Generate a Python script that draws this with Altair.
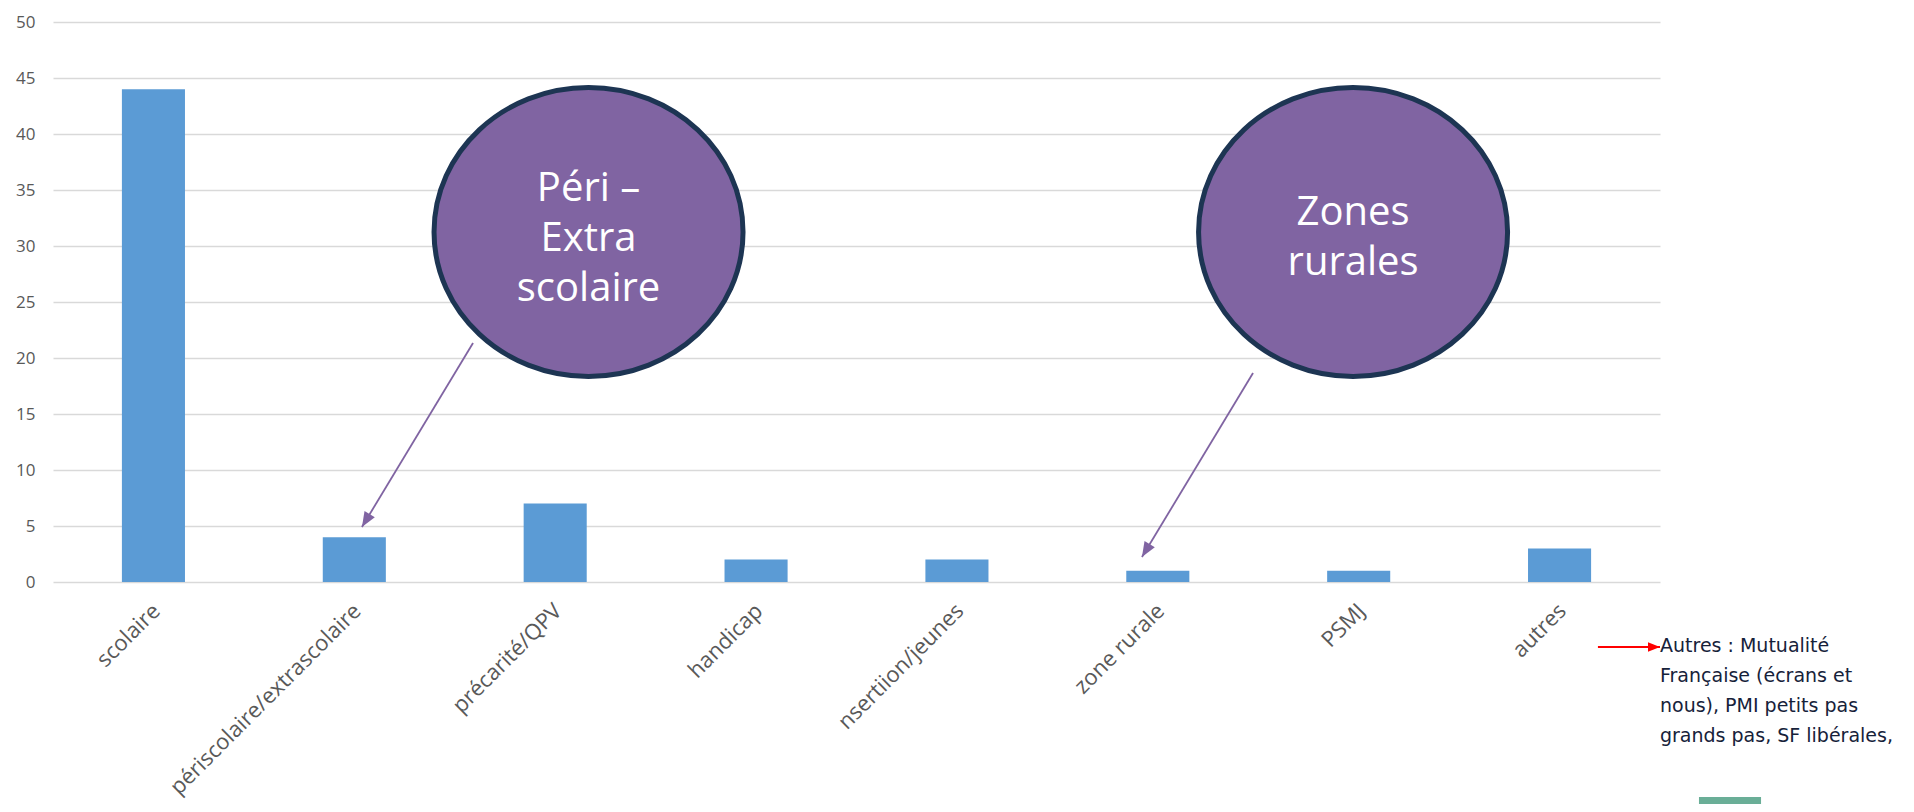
import altair as alt
import pandas as pd

# ---------------- data ----------------
categories = ["scolaire", "périscolaire/extrascolaire", "précarité/QPV", "handicap",
              "nsertiion/jeunes", "zone rurale", "PSMJ", "autres"]
values = [44, 4, 7, 2, 2, 1, 1, 3]
y_ticks = [0, 5, 10, 15, 20, 25, 30, 35, 40, 45, 50]

# annotations (x in category units 0..8, y in value units)
bubble_text = ["Péri –\nExtra\nscolaire", "Zones\nrurales"]
bubble_x = [2.666, 6.472]
bubble_y = [31.25, 31.25]
bubble_text_y = [35.13, 32.95]

arrow_x1 = [2.091, 5.974]
arrow_y1 = [21.34, 18.66]
arrow_x2 = [1.538, 5.421]
arrow_y2 = [4.91, 2.23]
arrow_angle = [211, 211]

red_x1 = [7.691]
red_x2 = [8.000]
red_y = [-5.80]
red_angle = [90]

note_lines = ["Autres : Mutualité\nFrançaise (écrans et\nnous), PMI petits pas\ngrands pas, SF libérales,"]
note_x = [8.0]
note_y = [-5.71]

green_x1 = [8.194]
green_x2 = [8.503]
green_y1 = [-19.2]
green_y2 = [-21.0]

# ---------------- styles ----------------
W, H = 1607, 560
ELLIPSE = ("M 1 0 C 1 0.5166 0.5523 0.9353 0 0.9353 C -0.5523 0.9353 -1 0.5166 -1 0 "
           "C -1 -0.5166 -0.5523 -0.9353 0 -0.9353 C 0.5523 -0.9353 1 -0.5166 1 0 Z")
HEAD = "M 0 0 L -0.4 1 L 0.4 1 Z"
PURPLE = "#8064a2"

xa = alt.Scale(domain=[0, 8], nice=False, zero=False)
ya = alt.Scale(domain=[0, 50], nice=False)

df = pd.DataFrame({"cat": categories, "val": values})

bars = alt.Chart(df).mark_bar(color="#5b9bd5").encode(
    x=alt.X("cat:N", sort=categories, title=None,
            scale=alt.Scale(paddingInner=0.686, paddingOuter=0.343),
            axis=alt.Axis(labelAngle=-45, labelAlign="right", labelBaseline="middle",
                          labelFont="Open Sans", labelFontSize=22, labelColor="#595959",
                          labelPadding=25, labelOffset=3, domain=False, ticks=False,
                          grid=False, labelLimit=500, labelOverlap=False)),
    y=alt.Y("val:Q", title=None, scale=alt.Scale(domain=[0, 50], nice=False),
            axis=alt.Axis(values=y_ticks, grid=True, gridColor="#d9d9d9", gridWidth=1.3,
                          domain=False, ticks=False, labelPadding=18,
                          labelFont="Open Sans", labelFontSize=17, labelColor="#595959")),
)

bub = pd.DataFrame({"x": bubble_x, "y": bubble_y, "ty": bubble_text_y, "t": bubble_text})
circles = alt.Chart(bub).mark_point(
    shape=ELLIPSE, size=95481, filled=True, fill=PURPLE, stroke="#1d3553",
    strokeWidth=5, opacity=1, fillOpacity=1, strokeOpacity=1
).encode(x=alt.X("x:Q", scale=xa, axis=None), y=alt.Y("y:Q", scale=ya, axis=None))

bub_text = alt.Chart(bub).mark_text(
    font="Open Sans", fontSize=40, color="white", lineBreak="\n", lineHeight=50,
    align="center", baseline="middle"
).encode(x=alt.X("x:Q", scale=xa, axis=None), y=alt.Y("ty:Q", scale=ya, axis=None), text="t:N")

arr = pd.DataFrame({"x1": arrow_x1, "y1": arrow_y1, "x2": arrow_x2, "y2": arrow_y2,
                    "ang": arrow_angle})
arrow_lines = alt.Chart(arr).mark_rule(color=PURPLE, strokeWidth=1.8).encode(
    x=alt.X("x1:Q", scale=xa, axis=None), y=alt.Y("y1:Q", scale=ya, axis=None),
    x2="x2:Q", y2="y2:Q")
arrow_heads = alt.Chart(arr).mark_point(
    shape=HEAD, size=900, filled=True, color=PURPLE, opacity=1
).encode(x=alt.X("x2:Q", scale=xa, axis=None), y=alt.Y("y2:Q", scale=ya, axis=None),
         angle=alt.Angle("ang:Q", scale=None))

red = pd.DataFrame({"x1": red_x1, "x2": red_x2, "y": red_y, "ang": red_angle})
red_line = alt.Chart(red).mark_rule(color="#ff0000", strokeWidth=2).encode(
    x=alt.X("x1:Q", scale=xa, axis=None), x2="x2:Q", y=alt.Y("y:Q", scale=ya, axis=None))
red_head = alt.Chart(red).mark_point(
    shape=HEAD, size=576, filled=True, color="#ff0000", opacity=1
).encode(x=alt.X("x2:Q", scale=xa, axis=None), y=alt.Y("y:Q", scale=ya, axis=None),
         angle=alt.Angle("ang:Q", scale=None))

note = pd.DataFrame({"x": note_x, "y": note_y, "t": note_lines})
note_text = alt.Chart(note).mark_text(
    align="left", baseline="middle", lineBreak="\n", lineHeight=30,
    font="DejaVu Sans", fontSize=19, color="#16223a"
).encode(x=alt.X("x:Q", scale=xa, axis=None), y=alt.Y("y:Q", scale=ya, axis=None), text="t:N")

green = pd.DataFrame({"x1": green_x1, "x2": green_x2, "y1": green_y1, "y2": green_y2})
green_rect = alt.Chart(green).mark_rect(color="#6aae97").encode(
    x=alt.X("x1:Q", scale=xa, axis=None), x2="x2:Q",
    y=alt.Y("y1:Q", scale=ya, axis=None), y2="y2:Q")

chart = alt.layer(
    bars, arrow_lines, arrow_heads, circles, bub_text, red_line, red_head, note_text, green_rect
).resolve_scale(x="independent", y="independent").properties(
    width=W, height=H,
    background="white",
    autosize=alt.AutoSizeParams(type="none"),
    padding={"left": 45, "top": 14, "right": 244, "bottom": 222},
).configure_view(stroke=None)

chart.save("out.html", embed_options={"renderer": "svg", "actions": False})
